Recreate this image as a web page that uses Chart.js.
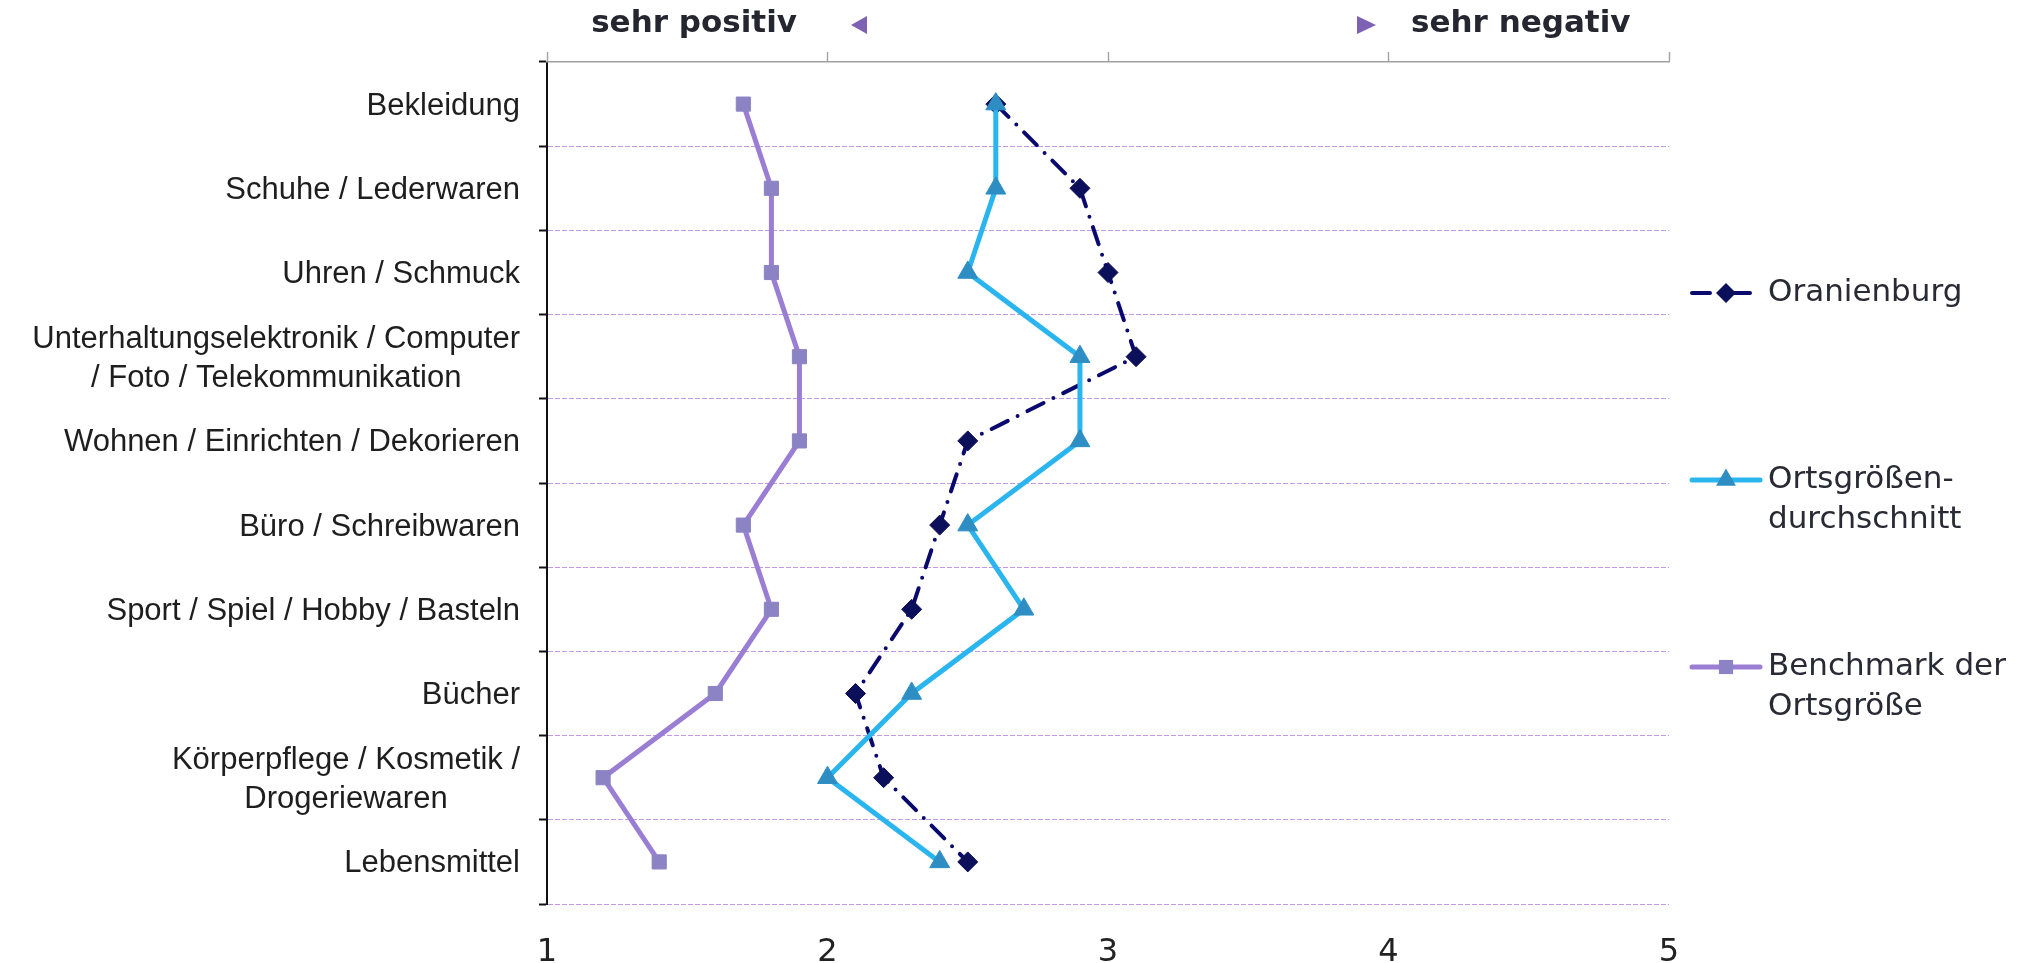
<!DOCTYPE html>
<html>
<head>
<meta charset="utf-8">
<script src="https://cdn.jsdelivr.net/npm/chart.js@4.4.1/dist/chart.umd.min.js"></script>
<style>
  html, body { margin: 0; padding: 0; background: #fff; overflow: hidden; }
</style>
</head>
<body>
<canvas id="myChart" width="2024" height="963"></canvas>
<script>
var categories = [
  "Bekleidung",
  "Schuhe / Lederwaren",
  "Uhren / Schmuck",
  ["Unterhaltungselektronik / Computer", "/ Foto / Telekommunikation"],
  "Wohnen / Einrichten / Dekorieren",
  "Büro / Schreibwaren",
  "Sport / Spiel / Hobby / Basteln",
  "Bücher",
  ["Körperpflege / Kosmetik /", "Drogeriewaren"],
  "Lebensmittel"
];
var oranienburg = [2.6, 2.9, 3.0, 3.1, 2.5, 2.4, 2.3, 2.1, 2.2, 2.5];
var ortsgroessen = [2.6, 2.6, 2.5, 2.9, 2.9, 2.5, 2.7, 2.3, 2.0, 2.4];
var benchmark = [1.7, 1.8, 1.8, 1.9, 1.9, 1.7, 1.8, 1.6, 1.2, 1.4];
var seriesNames = [["Oranienburg"], ["Ortsgrößen-", "durchschnitt"], ["Benchmark der", "Ortsgröße"]];
var xTicks = [1, 2, 3, 4, 5];
var topLabels = ["sehr positiv", "sehr negativ"];

var dashDot = [18, 11, 0, 11];

// draws a marker for the legend
function marker(ctx, style, x, y, r, color) {
  ctx.save();
  ctx.fillStyle = color;
  ctx.beginPath();
  if (style === "rectRot") {
    ctx.moveTo(x - r, y); ctx.lineTo(x, y - r); ctx.lineTo(x + r, y); ctx.lineTo(x, y + r);
  } else if (style === "triangle") {
    ctx.moveTo(x, y - r);
    ctx.lineTo(x + Math.sin(2.0944) * r, y - Math.cos(2.0944) * r);
    ctx.lineTo(x + Math.sin(4.1888) * r, y - Math.cos(4.1888) * r);
  } else {
    var s = r * Math.SQRT1_2;
    ctx.rect(x - s, y - s, 2 * s, 2 * s);
  }
  ctx.closePath();
  ctx.fill();
  ctx.restore();
}

var extras = {
  id: "extras",
  afterDraw: function (chart) {
    var ctx = chart.ctx;
    var ys = chart.scales.y;

    // category labels
    ctx.save();
    ctx.font = '31px "Liberation Sans", Arial, sans-serif';
    ctx.fillStyle = "#1e1e1e";
    ctx.textBaseline = "middle";
    ctx.textAlign = "center";
    categories.forEach(function (lab, i) {
      var lines = Array.isArray(lab) ? lab : [lab];
      var yc = ys.getPixelForTick(i) + 2;
      var widest = 0;
      lines.forEach(function (l) { widest = Math.max(widest, ctx.measureText(l).width); });
      var cx = ys.right - 27 - widest / 2;
      lines.forEach(function (l, j) {
        ctx.fillText(l, cx, yc + (j - (lines.length - 1) / 2) * 39);
      });
    });
    ctx.restore();

    // top annotations
    ctx.save();
    ctx.font = 'bold 31px "DejaVu Sans", Verdana, sans-serif';
    ctx.fillStyle = "#262630";
    ctx.textBaseline = "middle";
    ctx.textAlign = "right";
    ctx.fillText(topLabels[0], 797, 24);
    ctx.textAlign = "left";
    ctx.fillText(topLabels[1], 1411, 24);
    ctx.fillStyle = "#7d62b3";
    ctx.beginPath();
    ctx.moveTo(851, 25); ctx.lineTo(867, 16); ctx.lineTo(867, 34); ctx.closePath(); ctx.fill();
    ctx.beginPath();
    ctx.moveTo(1357, 16); ctx.lineTo(1357, 34); ctx.lineTo(1376, 25); ctx.closePath(); ctx.fill();
    ctx.restore();

    // legend
    var legY = [293, 480, 667];
    chart.data.datasets.forEach(function (ds, i) {
      var y = legY[i];
      ctx.save();
      ctx.strokeStyle = ds.borderColor;
      ctx.lineWidth = ds.borderWidth;
      ctx.lineCap = "round";
      ctx.setLineDash(ds.borderDash || []);
      ctx.beginPath();
      ctx.moveTo(1692, y);
      ctx.lineTo(1760, y);
      ctx.stroke();
      ctx.restore();
      marker(ctx, ds.pointStyle, 1726, y, ds.pointRadius, ds.pointBackgroundColor);
      ctx.save();
      ctx.font = '31px "DejaVu Sans", Verdana, sans-serif';
      ctx.fillStyle = "#2a2a35";
      ctx.textBaseline = "middle";
      ctx.textAlign = "left";
      seriesNames[i].forEach(function (t, j) {
        ctx.fillText(t, 1768, y + j * 40);
      });
      ctx.restore();
    });
  }
};

var ctx1 = document.getElementById("myChart").getContext("2d");
var myChart1 = new Chart(ctx1, {
  type: "line",
  data: {
    labels: categories,
    datasets: [
      {
        label: "Oranienburg",
        data: oranienburg,
        borderColor: "#0a0a6e",
        borderWidth: 4,
        borderDash: dashDot,
        borderCapStyle: "round",
        pointStyle: "rectRot",
        pointRadius: 10,
        pointBackgroundColor: "#0c0f5a",
        pointBorderColor: "#0c0f5a",
        pointBorderWidth: 1,
        order: 1,
      },
      {
        label: "Ortsgrößendurchschnitt",
        data: ortsgroessen,
        borderColor: "#2bb5ef",
        borderWidth: 5,
        pointStyle: "triangle",
        pointRadius: 11.5,
        pointBackgroundColor: "#2e8ec3",
        pointBorderColor: "#2e8ec3",
        pointBorderWidth: 1,
        order: 0,
      },
      {
        label: "Benchmark der Ortsgröße",
        data: benchmark,
        borderColor: "#9a7ed4",
        borderWidth: 5,
        pointStyle: "rect",
        pointRadius: 10,
        pointBackgroundColor: "#8c83c4",
        pointBorderColor: "#8c83c4",
        pointBorderWidth: 1,
        order: 2,
      },
    ],
  },
  options: {
    responsive: false,
    animation: false,
    indexAxis: "y",
    layout: { padding: { left: 0, right: 355, top: 0, bottom: 0 } },
    plugins: { legend: { display: false }, tooltip: { enabled: false } },
    elements: { line: { tension: 0 } },
    scales: {
      y: {
        type: "category",
        position: "left",
        offset: true,
        ticks: { display: false },
        grid: {
          offset: true,
          color: "#c598e8",
          lineWidth: 1,
          tickColor: "#111",
          tickWidth: 2,
          tickLength: 8,
          tickBorderDash: [],
        },
        border: { display: true, color: "#111", width: 2, dash: [5, 2] },
        afterFit: function (s) { s.width = 547; },
      },
      x: {
        type: "linear",
        position: "bottom",
        min: 1,
        max: 5,
        afterBuildTicks: function (s) { s.ticks = xTicks.map(function (v) { return { value: v }; }); },
        ticks: {
          padding: 21,
          color: "#222",
          font: { family: '"DejaVu Sans", Verdana, sans-serif', size: 32 },
        },
        grid: { display: false },
        border: { display: false },
        afterFit: function (s) { s.height = 59; },
      },
      x2: {
        type: "linear",
        position: "top",
        axis: "x",
        min: 1,
        max: 5,
        afterBuildTicks: function (s) { s.ticks = xTicks.map(function (v) { return { value: v }; }); },
        ticks: { display: false },
        grid: { drawOnChartArea: false, tickLength: 10, tickColor: "#a5a5a5", tickWidth: 1.5 },
        border: { display: true, color: "#a0a0a0", width: 1.5 },
        afterFit: function (s) { s.height = 62; },
      },
    },
  },
  plugins: [extras],
});
</script>
</body>
</html>
